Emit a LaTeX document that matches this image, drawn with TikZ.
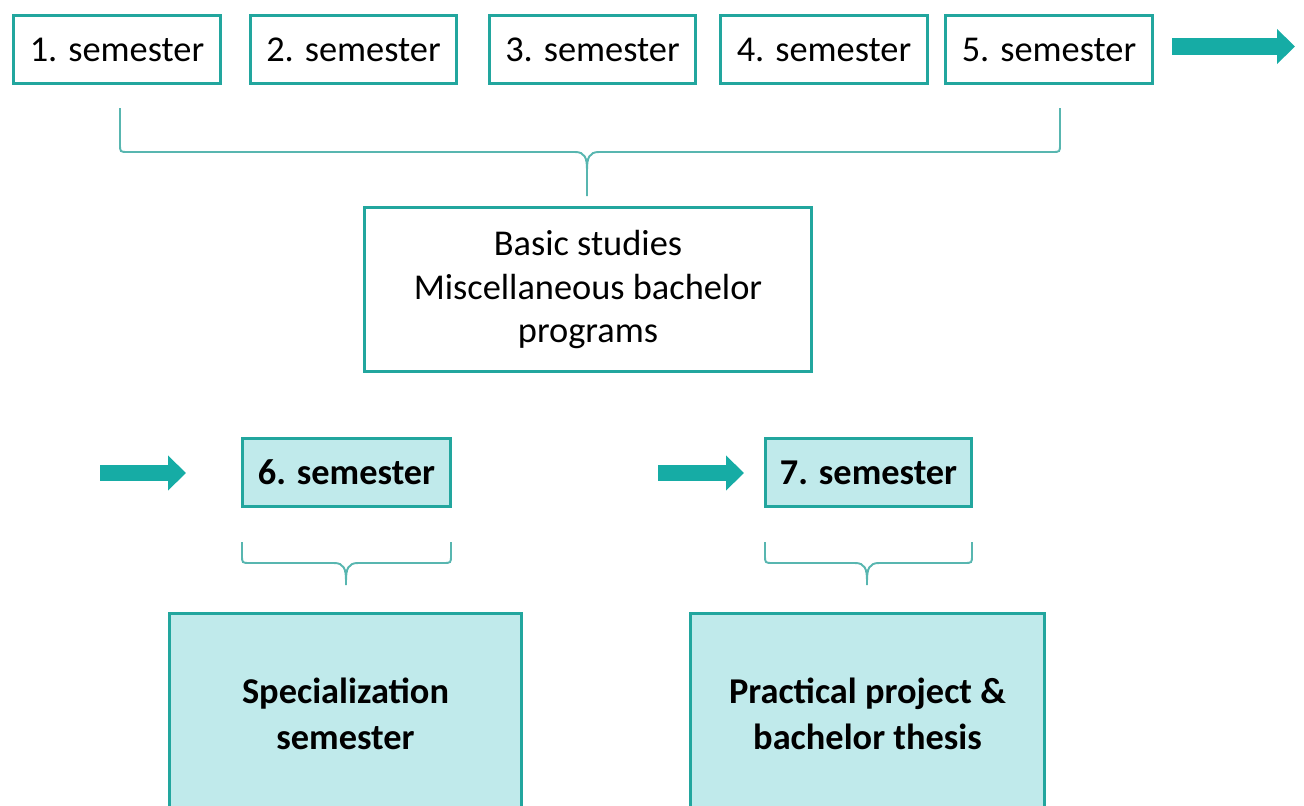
\documentclass[tikz,border=0pt]{standalone}
\usepackage{fontspec}
\setmainfont{Carlito}
\usetikzlibrary{arrows.meta}

\definecolor{boxteal}{RGB}{34,166,158}
\definecolor{arrowteal}{RGB}{22,172,165}
\definecolor{paleteal}{RGB}{192,234,235}
\definecolor{braceteal}{RGB}{88,182,176}

\tikzset{
  sembox/.style={draw=boxteal, line width=1.7pt, fill=white, inner sep=0pt,
    minimum width=4.14cm, minimum height=1.36cm,
    font=\fontsize{20.7}{25}\selectfont},
  markbox/.style={sembox, fill=paleteal, font=\fontsize{20.7}{26}\selectfont\bfseries},
  fatarrow/.style={draw=arrowteal, line width=9.6pt,
    -{Triangle[length=0.36cm, width=0.68cm]}},
  bracketline/.style={draw=braceteal, line width=1.1pt}
}

% curly bracket: left x, right x, middle x, top y, bar y, tip y
\newcommand{\groupbrace}[6]{%
  \draw[bracketline] (#1,#4) -- (#1,{#5-8}) .. controls (#1,#5) .. ({#1+8},#5)
    -- ({#3-12},#5) .. controls ({#3-2},#5) and (#3,{#5+6}) .. (#3,{#5+18}) -- (#3,#6);
  \draw[bracketline] (#2,#4) -- (#2,{#5-8}) .. controls (#2,#5) .. ({#2-8},#5)
    -- ({#3+12},#5) .. controls ({#3+2},#5) and (#3,{#5+6}) .. (#3,{#5+18});
}

\begin{document}
\begin{tikzpicture}[x=0.02cm, y=-0.02cm]
  \useasboundingbox (0,0) rectangle (1304,805);
  \clip (0,0) rectangle (1304,805);

  % first five semesters
  \node[sembox] (sem1) at (117,49.5) {1. semester};
  \node[sembox] (sem2) at (353.5,49.5) {2. semester};
  \node[sembox] (sem3) at (592.5,49.5) {3. semester};
  \node[sembox] (sem4) at (824,49.5) {4. semester};
  \node[sembox] (sem5) at (1049,49.5) {5. semester};
  \coordinate (go1) at (1172,46.5);
  \coordinate (go2) at (1295,46.5);
  \draw[fatarrow] (go1) -- (go2);

  \groupbrace{120}{1060}{587}{108}{152}{196}
  \node[sembox, minimum width=8.94cm, minimum height=3.28cm, align=center]
    (basic) at (588,289.5) {Basic studies\\Miscellaneous bachelor\\programs};

  % last two semesters
  \coordinate (in6a) at (100,473);
  \coordinate (in6b) at (186,473);
  \draw[fatarrow] (in6a) -- (in6b);
  \node[markbox, minimum width=4.16cm] (sem6) at (346.5,472.5) {6. semester};
  \coordinate (in7a) at (658,473);
  \coordinate (in7b) at (744,473);
  \draw[fatarrow] (in7a) -- (in7b);
  \node[markbox, minimum width=4.12cm] (sem7) at (868.5,472.5) {7. semester};

  \groupbrace{242}{451}{346}{542}{563}{585}
  \groupbrace{765}{972}{867}{542}{563}{585}

  \node[markbox, minimum width=7.04cm, minimum height=4.0cm, align=center]
    (spec) at (345.5,713.5) {Specialization\\semester};
  \node[markbox, minimum width=7.08cm, minimum height=4.0cm, align=center]
    (thesis) at (867.5,713.5) {Practical project \&\\bachelor thesis};
\end{tikzpicture}
\end{document}
